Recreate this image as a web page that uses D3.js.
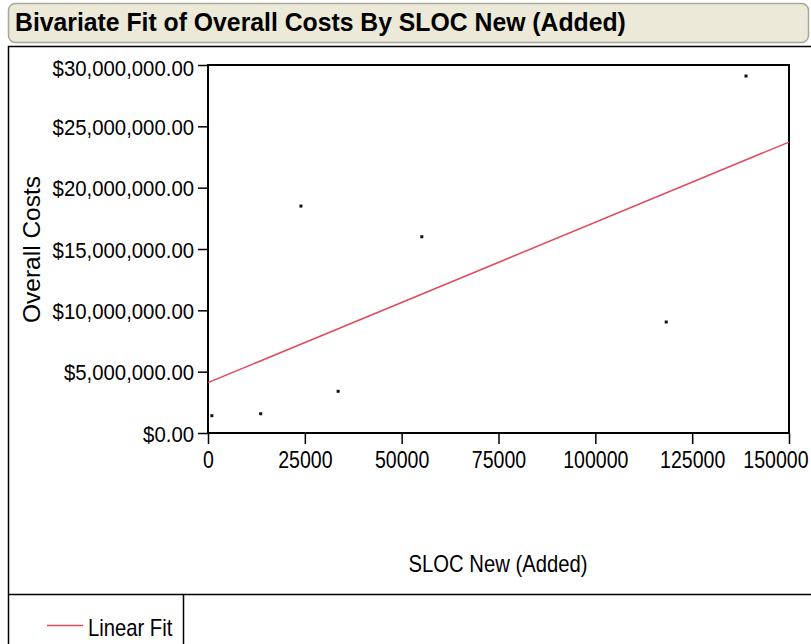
<!DOCTYPE html>
<html>
<head>
<meta charset="utf-8">
<script src="https://cdn.jsdelivr.net/npm/d3@7"></script>
<style>
  body { margin: 0; background: #fff; }
  text { font-family: "Liberation Sans", Arial, sans-serif; fill: #000; }
</style>
</head>
<body>
<script>
// datos
const slocNew = [1000, 13600, 24000, 33600, 55200, 118300, 138900];
const overallCosts = [1410000, 1570000, 18500000, 3400000, 16000000, 9050000, 29100000];
const xTicks = [0, 25000, 50000, 75000, 100000, 125000, 150000];
const yTicks = [0, 5000000, 10000000, 15000000, 20000000, 25000000, 30000000];

const W = 811, H = 644;
const plot = { left: 208, right: 789, top: 65, bottom: 433 };

const svg = d3.create("svg")
    .attr("width", W)
    .attr("height", H);

// texto comprimido horizontalmente (la fuente original es estrecha)
function label(txt, x, y, size, sx, anchor) {
    return svg.append("text")
        .attr("transform", `translate(${x},${y}) scale(${sx},1)`)
        .attr("text-anchor", anchor || "start")
        .style("font-size", size + "px")
        .text(txt);
}
function narrow(sel, s) {
    sel.each(function() {
        const t = d3.select(this);
        const x0 = +t.attr("x") || 0;
        t.attr("x", x0 / s).attr("transform", `scale(${s},1)`);
    });
}

// titulo
svg.append("rect")
    .attr("x", 8.5).attr("y", 3.5)
    .attr("width", 800).attr("height", 39)
    .attr("rx", 7)
    .attr("fill", "#ECE9D8")
    .attr("stroke", "#A9A797")
    .attr("stroke-width", 1.5);

label("Bivariate Fit of Overall Costs By SLOC New (Added)", 15, 31, 26, 0.953)
    .style("font-weight", "bold");

// marcos exteriores
svg.append("path")
    .attr("d", `M8.5,${H}V46.5H${W}`)
    .attr("fill", "none").attr("stroke", "#000").attr("stroke-width", 1.5);
svg.append("path")
    .attr("d", `M8.5,594.5H${W}M183.5,594.5V${H}`)
    .attr("fill", "none").attr("stroke", "#000").attr("stroke-width", 1.5);

// escalas
const x = d3.scaleLinear().domain([0, 150000]).range([plot.left, plot.right]);
const y = d3.scaleLinear().domain([0, 30000000]).range([plot.bottom, plot.top]);

const fmtMoney = d => "$" + d3.format(",.2f")(d);

// ejes
svg.append("g")
    .attr("transform", `translate(${plot.left},0)`)
    .call(d3.axisLeft(y).tickValues(yTicks).tickFormat(fmtMoney).tickSize(10).tickPadding(4))
    .call(g => g.select(".domain").remove())
    .call(g => g.selectAll(".tick line").attr("stroke-width", 1.5))
    .call(g => g.selectAll("text").style("font-size", "23px").attr("dy", "0.36em")
        .filter(d => d === 30000000).attr("y", 2.5))
    .call(g => narrow(g.selectAll("text"), 0.885));

svg.append("g")
    .attr("transform", `translate(0,${plot.bottom})`)
    .call(d3.axisBottom(x).tickValues(xTicks).tickFormat(d3.format("d")).tickSize(11).tickPadding(8))
    .call(g => g.select(".domain").remove())
    .call(g => g.selectAll(".tick line").attr("stroke-width", 1.5))
    .call(g => g.selectAll("text").style("font-size", "23px"))
    .call(g => g.selectAll("text").filter(d => d === 150000)
        .attr("text-anchor", "end").attr("x", 808 - plot.right))
    .call(g => narrow(g.selectAll("text"), 0.85));

svg.append("rect")
    .attr("x", plot.left).attr("y", plot.top)
    .attr("width", plot.right - plot.left).attr("height", plot.bottom - plot.top)
    .attr("fill", "none").attr("stroke", "#000").attr("stroke-width", 2);

// titulos de ejes
svg.append("text")
    .attr("transform", `translate(39.5,249.5) rotate(-90)`)
    .attr("text-anchor", "middle")
    .style("font-size", "24.5px")
    .text("Overall Costs");

label("SLOC New (Added)", 498, 572, 23, 0.88, "middle");

// ajuste lineal (minimos cuadrados)
const data = slocNew.map((v, i) => ({ x: v, y: overallCosts[i] }));
const mx = d3.mean(data, d => d.x), my = d3.mean(data, d => d.y);
const slope = d3.sum(data, d => (d.x - mx) * (d.y - my)) / d3.sum(data, d => (d.x - mx) ** 2);
const intercept = my - slope * mx;

svg.append("line")
    .attr("x1", x(0)).attr("y1", y(intercept))
    .attr("x2", x(150000)).attr("y2", y(intercept + slope * 150000))
    .attr("stroke", "#E04A5A").attr("stroke-width", 1.5);

// puntos
svg.append("g")
    .selectAll("rect")
    .data(data)
    .join("rect")
    .attr("x", d => x(d.x) - 1.5)
    .attr("y", d => y(d.y) - 1.5)
    .attr("width", 3).attr("height", 3)
    .attr("fill", "#111");

// leyenda
svg.append("line")
    .attr("x1", 47).attr("x2", 83).attr("y1", 625.5).attr("y2", 625.5)
    .attr("stroke", "#E04A5A").attr("stroke-width", 1.5);
label("Linear Fit", 88, 636, 23, 0.88);

document.body.appendChild(svg.node());
</script>
</body>
</html>
